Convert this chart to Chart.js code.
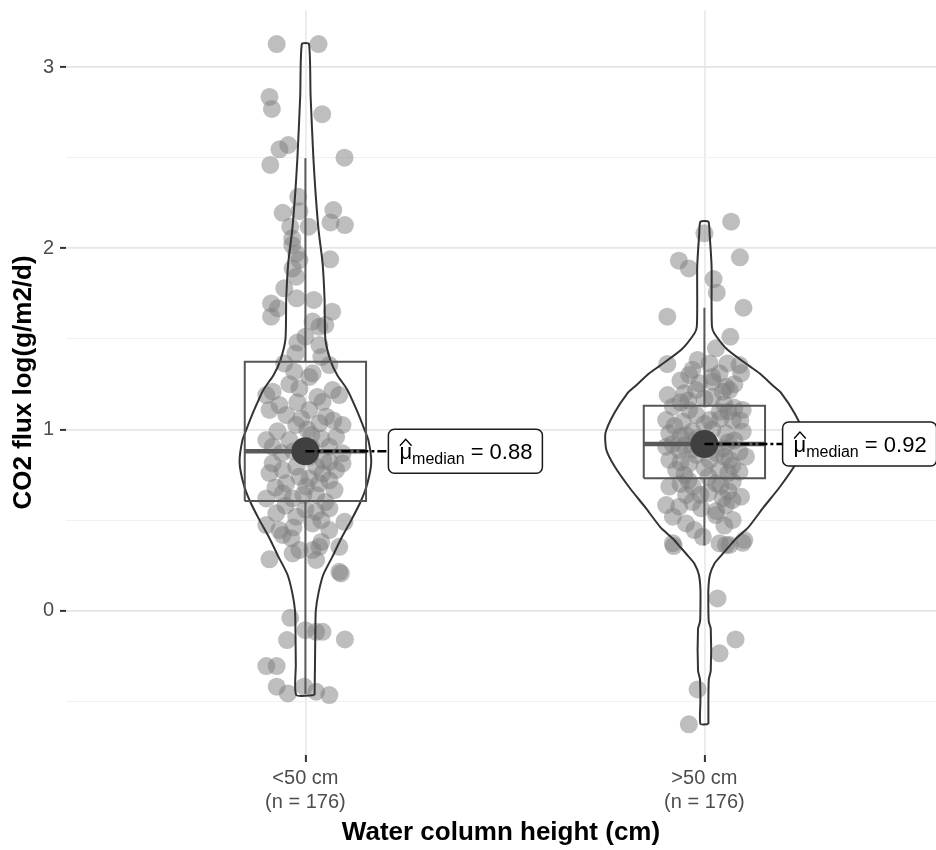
<!DOCTYPE html>
<html>
<head>
<meta charset="utf-8">
<script src="https://cdn.jsdelivr.net/npm/chart.js@4.4.0/dist/chart.umd.min.js"></script>
<style>
    html, body { margin: 0; padding: 0; background: #fff; }
    canvas { display: block; }
</style>
</head>
<body>
<canvas id="myChart" width="936" height="850"></canvas>
<script>
// categories and counts
const groups = ['<50 cm', '>50 cm'];
const groupN = [176, 176];
const yTicks = [-0.5, 0, 0.5, 1, 1.5, 2, 2.5, 3];

// box stats: lower whisker, q1, median, q3, upper whisker
const box1 = [-0.46, 0.605, 0.88, 1.374, 2.497];
const box2 = [0.36, 0.731, 0.92, 1.131, 1.672];
const medians = [0.88, 0.92];

// violin outlines: y levels and half widths (x units)
const violinY1 = [-0.465, -0.3, -0.1, 0.0, 0.1, 0.2, 0.3, 0.4, 0.5, 0.6, 0.7, 0.82, 0.94, 1.0, 1.1, 1.22, 1.3, 1.38, 1.5, 1.72, 1.92, 2.1, 2.32, 2.5, 2.84, 3.127];
const violinW1 = [0.023, 0.024, 0.025, 0.026, 0.033, 0.045, 0.068, 0.090, 0.115, 0.138, 0.155, 0.165, 0.158, 0.148, 0.130, 0.105, 0.080, 0.063, 0.050, 0.048, 0.043, 0.033, 0.025, 0.020, 0.013, 0.009];
const violinY2 = [-0.625, -0.5, -0.38, -0.33, -0.1, -0.06, 0.0, 0.12, 0.2, 0.26, 0.3, 0.35, 0.4, 0.46, 0.57, 0.68, 0.8, 0.89, 0.98, 1.09, 1.2, 1.236, 1.31, 1.35, 1.44, 1.53, 1.567, 1.7, 1.9, 2.08, 2.147];
const violinW2 = [0.010, 0.010, 0.011, 0.016, 0.016, 0.011, 0.010, 0.010, 0.014, 0.025, 0.040, 0.060, 0.080, 0.110, 0.148, 0.188, 0.226, 0.246, 0.248, 0.226, 0.193, 0.175, 0.138, 0.113, 0.058, 0.025, 0.019, 0.018, 0.018, 0.013, 0.010];

// jittered observations
const flux1 = [
    3.127, 3.127, 2.835, 2.769, 2.740, 2.546, 2.570, 2.460, 2.500, 2.284,
    2.196, 2.205, 2.211, 2.143, 2.128, 2.119, 2.119, 2.055, 2.018, 1.972,
    1.939, 1.935, 1.889, 1.843, 1.779, 1.724, 1.715, 1.696, 1.669, 1.623,
    1.650, 1.596, 1.577, 1.512, 1.567, 1.466, 1.420, 1.356, 1.365, 1.319,
    1.310, 1.190, 1.209, 1.227, 1.218, 1.190, 1.135, 1.080, 1.108, 1.108,
    1.153, 1.071, 1.025, 1.034, 1.025, 0.960, 0.942, 0.905, 0.942, 0.905,
    0.869, 0.813, 0.776, 0.795, 0.795, 0.758, 0.776, 0.813, 0.703, 0.740,
    0.685, 0.703, 0.666, 0.648, 0.620, 0.620, 0.639, 0.538, 0.519, 0.546,
    0.565, 0.473, 0.445, 0.482, 0.445, 0.491, 0.418, 0.335, 0.317, 0.353,
    0.335, 0.353, 0.284, 0.280, 0.215, 0.206, -0.039, -0.107, -0.116, -0.116,
    -0.162, -0.158, -0.305, -0.305, -0.419, -0.456, -0.419, -0.447, -0.465, 0.870,
    0.850, 0.900, 0.760, 0.720, 0.990, 1.000, 1.180, 1.250, 0.580, 0.600,
    0.380, 0.400, 0.830, 0.950, 1.060, 0.680, 0.560, 1.400, 1.480, 1.290,
    1.150, 0.970, 0.880, 0.820, 0.730, 0.640, 0.500, 0.460, 1.050
];
const jitter1 = [
    -0.072, 0.033, -0.090, -0.084, 0.042, -0.065, -0.043, -0.088, 0.098, -0.018,
    -0.057, -0.015, 0.070, 0.063, 0.099, -0.038, 0.008, -0.033, -0.033, -0.023,
    0.062, -0.015, -0.032, -0.023, -0.053, -0.022, 0.021, -0.086, -0.069, -0.086,
    0.067, 0.018, 0.050, 0.000, 0.035, 0.035, -0.025, 0.060, -0.053, -0.028,
    0.018, -0.098, -0.082, -0.015, 0.068, 0.085, -0.065, -0.048, -0.090, 0.010,
    0.043, 0.052, -0.023, 0.035, 0.093, 0.077, -0.098, -0.082, -0.040, 0.060,
    0.093, -0.082, -0.057, -0.023, 0.027, 0.043, 0.077, 0.093, -0.048, -0.015,
    0.002, 0.035, 0.073, -0.057, -0.098, -0.032, 0.027, -0.073, -0.023, 0.027,
    0.060, -0.098, -0.065, 0.018, 0.060, 0.098, -0.057, -0.015, -0.032, 0.035,
    0.018, 0.085, -0.090, 0.027, 0.085, 0.089, -0.038, 0.000, 0.027, 0.043,
    -0.046, 0.099, -0.098, -0.072, -0.072, -0.044, -0.003, 0.027, 0.060, -0.060,
    0.010, 0.015, -0.090, 0.060, -0.070, 0.005, 0.030, -0.040, -0.050, 0.050,
    0.040, -0.035, 0.045, 0.040, -0.010, -0.075, 0.000, 0.040, -0.020, 0.010,
    -0.020, 0.015, -0.030, 0.060, 0.010, -0.005, 0.040, -0.030, 0.070
];
const flux2 = [
    2.147, 2.083, 1.932, 1.889, 1.950, 1.830, 1.755, 1.672, 1.623, 1.512,
    1.448, 1.361, 1.384, 1.365, 1.365, 1.356, 1.301, 1.310, 1.310, 1.255,
    1.264, 1.236, 1.190, 1.209, 1.218, 1.218, 1.126, 1.108, 1.098, 1.108,
    1.052, 1.043, 1.052, 1.052, 0.979, 0.969, 0.979, 0.988, 0.905, 0.887,
    0.896, 0.877, 0.832, 0.813, 0.832, 0.832, 0.850, 0.776, 0.776, 0.767,
    0.685, 0.685, 0.703, 0.712, 0.629, 0.620, 0.639, 0.583, 0.574, 0.565,
    0.583, 0.519, 0.482, 0.528, 0.501, 0.445, 0.408, 0.372, 0.372, 0.363,
    0.390, 0.357, 0.363, 0.375, 0.068, -0.158, -0.235, -0.434, -0.627, 1.150,
    1.170, 1.140, 1.080, 1.000, 0.950, 0.940, 1.020, 0.860, 0.870, 0.920,
    0.750, 0.740, 0.650, 0.600, 1.250, 1.270, 0.960, 1.120, 0.800, 0.550,
    0.470, 0.700, 0.660, 1.060, 1.180, 1.160, 1.100, 1.030, 0.990, 0.930,
    0.910, 0.850, 0.820, 0.790, 0.760, 0.720, 0.690, 0.640, 0.610, 1.290,
    1.330, 1.200, 1.050, 0.890
];
const jitter2 = [
    0.067, 0.000, -0.064, -0.039, 0.089, 0.023, 0.031, 0.098, -0.093, 0.065,
    0.029, -0.093, -0.017, 0.013, 0.058, 0.088, -0.038, 0.038, 0.092, -0.013,
    0.021, 0.054, -0.092, 0.046, -0.021, 0.063, -0.079, -0.038, 0.038, 0.096,
    -0.096, -0.054, 0.013, 0.071, -0.088, -0.046, 0.054, 0.096, -0.096, -0.063,
    0.046, 0.088, -0.088, -0.038, 0.013, 0.063, 0.104, -0.071, 0.038, 0.088,
    -0.088, -0.029, 0.029, 0.071, 0.092, 0.046, -0.046, -0.096, -0.063, -0.008,
    0.054, -0.079, -0.046, 0.029, 0.071, -0.025, -0.004, -0.079, 0.038, 0.063,
    0.100, -0.077, 0.054, 0.096, 0.033, 0.078, 0.038, -0.017, -0.039, -0.060,
    0.000, 0.050, -0.020, 0.020, -0.020, 0.075, -0.075, -0.020, 0.030, -0.080,
    -0.050, 0.010, 0.010, -0.030, 0.075, -0.060, -0.060, 0.075, 0.070, 0.030,
    0.050, -0.060, 0.060, 0.040, 0.020, -0.040, 0.060, 0.000, -0.030, 0.060,
    -0.050, 0.050, -0.060, 0.000, 0.060, -0.040, 0.040, -0.010, 0.070, 0.020,
    -0.030, -0.050, 0.090, -0.030
];

const FONT = '"Liberation Sans", Arial, sans-serif';
const boxHalf = 0.152;
const labelShift = [0.208, 0.196];

function pointsFor(center, flux, jitter) {
    return flux.map((v, i) => ({ x: center + jitter[i], y: v }));
}
function violinPath(center, ys, ws) {
    var right = ys.map((v, i) => ({ x: center + ws[i], y: v }));
    var left = ys.map((v, i) => ({ x: center - ws[i], y: v })).reverse();
    return right.concat(left, [right[0]]);
}
function boxPath(center, s) {
    return [
        { x: center - boxHalf, y: s[1] }, { x: center + boxHalf, y: s[1] },
        { x: center + boxHalf, y: s[3] }, { x: center - boxHalf, y: s[3] },
        { x: center - boxHalf, y: s[1] }
    ];
}

var dataSets = [];
[[box1, violinY1, violinW1, flux1, jitter1], [box2, violinY2, violinW2, flux2, jitter2]].forEach(function (g, i) {
    var c = i + 1;
    var s = g[0];
    dataSets.push({ data: [{ x: c, y: medians[i] }, { x: c + labelShift[i], y: medians[i] }], showLine: true, borderColor: '#000', borderWidth: 2.5, borderDash: [9, 3, 3, 3], pointRadius: 0, order: 0 });
    dataSets.push({ data: [{ x: c, y: medians[i] }], pointRadius: 14, backgroundColor: '#404040', borderWidth: 0, order: 1 });
    dataSets.push({ data: [{ x: c - boxHalf, y: s[2] }, { x: c + boxHalf, y: s[2] }], showLine: true, borderColor: '#595959', borderWidth: 4.5, pointRadius: 0, order: 2 });
    dataSets.push({ data: boxPath(c, s), showLine: true, borderColor: '#555', borderWidth: 2, pointRadius: 0, order: 3 });
    dataSets.push({ data: [{ x: c, y: s[3] }, { x: c, y: s[4] }], showLine: true, borderColor: '#5a5a5a', borderWidth: 2, pointRadius: 0, order: 3 });
    dataSets.push({ data: [{ x: c, y: s[0] }, { x: c, y: s[1] }], showLine: true, borderColor: '#5a5a5a', borderWidth: 2, pointRadius: 0, order: 3 });
    dataSets.push({ data: violinPath(c, g[1], g[2]), showLine: true, borderColor: '#333', borderWidth: 2, tension: 0.2, pointRadius: 0, order: 4 });
    dataSets.push({ data: pointsFor(c, g[3], g[4]), pointRadius: 9, backgroundColor: 'rgba(125,125,125,0.5)', borderWidth: 0, order: 5 });
});

// median label boxes drawn on top
const medianLabels = {
    id: 'medianLabels',
    afterDatasetsDraw(chart) {
        const ctx = chart.ctx;
        const x = chart.scales.x, y = chart.scales.y;
        medians.forEach(function (m, i) {
            var px = x.getPixelForValue(i + 1 + labelShift[i]);
            var py = y.getPixelForValue(m);
            var w = 154, h = 44;
            ctx.save();
            ctx.beginPath();
            ctx.roundRect(px, py - h / 2, w, h, 6);
            ctx.fillStyle = '#fff';
            ctx.fill();
            ctx.lineWidth = 1.5;
            ctx.strokeStyle = '#1a1a1a';
            ctx.stroke();

            ctx.fillStyle = '#000';
            ctx.textBaseline = 'alphabetic';
            ctx.textAlign = 'left';
            var base = py + 8;
            var tx = px + 11;
            ctx.font = '22px ' + FONT;
            ctx.fillText('μ', tx, base);
            var mw = ctx.measureText('μ').width;
            ctx.beginPath();
            ctx.moveTo(tx + 0.5, base - 13.5);
            ctx.lineTo(tx + mw / 2, base - 20);
            ctx.lineTo(tx + mw - 0.5, base - 13.5);
            ctx.lineWidth = 1.3;
            ctx.strokeStyle = '#000';
            ctx.stroke();
            tx += mw;
            ctx.font = '16px ' + FONT;
            ctx.fillText('median', tx, base + 5);
            tx += ctx.measureText('median').width;
            ctx.font = '22px ' + FONT;
            ctx.fillText(' = ' + m.toFixed(2), tx, base);
            ctx.restore();
        });
    }
};

Chart.defaults.font.family = FONT;

var ctx = document.getElementById('myChart');
var chart = new Chart(ctx, {
    type: 'scatter',
    data: { datasets: dataSets },
    plugins: [medianLabels],
    options: {
        responsive: false,
        animation: false,
        layout: { autoPadding: false, padding: { top: 10, right: 0, left: 0, bottom: 0 } },
        plugins: { legend: { display: false }, tooltip: { enabled: false } },
        scales: {
            x: {
                type: 'linear',
                min: 0.4,
                max: 0.4 + 870 / 399,
                afterBuildTicks: function (scale) { scale.ticks = [{ value: 1 }, { value: 2 }]; },
                afterFit: function (scale) { scale.height = 95; scale.paddingLeft = 0; scale.paddingRight = 0; },
                border: { display: false },
                grid: { color: '#ebebeb', lineWidth: 1.8, drawTicks: true, tickLength: 7, tickColor: '#333', tickWidth: 2 },
                ticks: {
                    autoSkip: false, maxRotation: 0, padding: 4,
                    color: '#4d4d4d', font: { size: 20 },
                    callback: function (v) { return [groups[v - 1], '(n = ' + groupN[v - 1] + ')']; }
                },
                title: { display: true, text: 'Water column height (cm)', color: '#000', font: { size: 26, weight: 'bold' }, padding: { top: 0, bottom: 2 } }
            },
            y: {
                min: -0.796,
                max: 3.315,
                afterBuildTicks: function (scale) { scale.ticks = yTicks.map(v => ({ value: v })); },
                afterFit: function (scale) { scale.width = 66; scale.paddingTop = 0; scale.paddingBottom = 0; },
                border: { display: false },
                grid: {
                    color: c => (c.tick && c.tick.value % 1 === 0) ? '#e6e6e6' : '#f1f1f1',
                    lineWidth: c => (c.tick && c.tick.value % 1 === 0) ? 1.8 : 1,
                    drawTicks: true, tickLength: 6, tickWidth: 2,
                    tickColor: c => (c.tick && c.tick.value % 1 === 0) ? '#333' : 'rgba(0,0,0,0)'
                },
                ticks: {
                    padding: 6, color: '#4d4d4d', font: { size: 20 },
                    callback: v => (v % 1 === 0 ? String(v) : '')
                },
                title: { display: true, text: 'CO2 flux log(g/m2/d)', color: '#000', font: { size: 26, weight: 'bold' }, padding: { top: 8, bottom: 0 } }
            }
        }
    }
});
</script>
</body>
</html>
